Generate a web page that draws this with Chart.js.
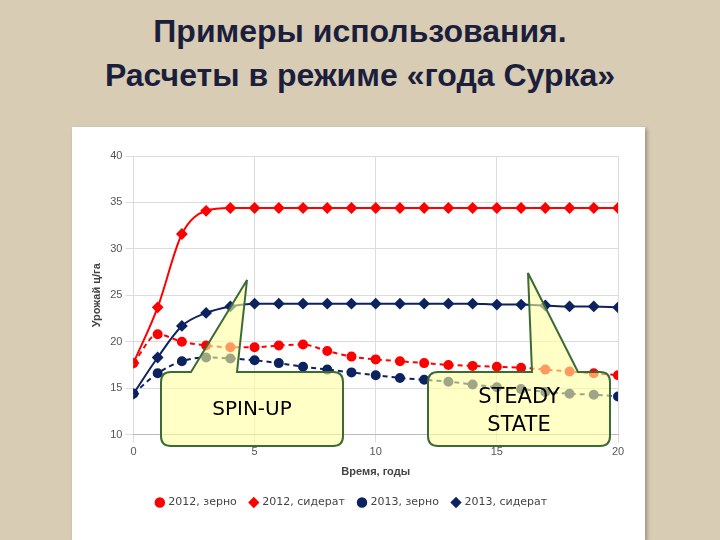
<!DOCTYPE html>
<html><head><meta charset="utf-8">
<script src="https://cdn.jsdelivr.net/npm/chart.js@4"></script>
<style>
body{margin:0;width:720px;height:540px;overflow:hidden;background:#d8cdb4;font-family:"DejaVu Sans",sans-serif;position:relative}
#title{position:absolute;left:0;top:9px;width:720px;text-align:center;font:bold 32px "Liberation Sans",Arial,sans-serif;color:#1c1f3c;line-height:44px}
#panel{position:absolute;left:72px;top:127px;width:573px;height:413px;background:#fff;box-shadow:2px 2px 4px rgba(0,0,0,0.3)}
#ov{position:absolute;left:0;top:0;pointer-events:none}
.lbl{position:absolute;text-align:center;font-family:"DejaVu Sans",sans-serif;color:#000}
</style></head><body>
<div id="title">Примеры использования.<br>Расчеты в режиме «года Сурка»</div>
<div id="panel"><canvas id="c" width="573" height="413"></canvas></div>
<svg id="ov" width="720" height="540">
<path d="M171,372 L191,372 L247,280 L237,372 L333,372 Q343,372 343,382 L343,436 Q343,446 333,446 L171,446 Q161,446 161,436 L161,382 Q161,372 171,372 Z" fill="rgba(255,255,160,0.6)" stroke="#3a6b35" stroke-width="2"/>
<path d="M438,372 L532,372 L528,273 L578,372 L600,372 Q610,372 610,382 L610,436 Q610,446 600,446 L438,446 Q428,446 428,436 L428,382 Q428,372 438,372 Z" fill="rgba(255,255,160,0.6)" stroke="#3a6b35" stroke-width="2"/>
</svg>
<div class="lbl" style="left:161px;top:396px;width:182px;font-size:20px">SPIN-UP</div>
<div class="lbl" style="left:428px;top:382px;width:182px;font-size:21px;line-height:28px">STEADY<br>STATE</div>
<script>
const years=[0,1,2,3,4,5,6,7,8,9,10,11,12,13,14,15,16,17,18,19,20];
const grain2012=[17.7,20.8,20.0,19.6,19.4,19.4,19.6,19.7,19.0,18.4,18.1,17.9,17.7,17.5,17.4,17.3,17.2,17.0,16.8,16.6,16.4];
const green2012=[17.7,23.7,31.6,34.1,34.4,34.4,34.4,34.4,34.4,34.4,34.4,34.4,34.4,34.4,34.4,34.4,34.4,34.4,34.4,34.4,34.4];
const grain2013=[14.4,16.6,17.9,18.3,18.2,18.0,17.7,17.3,17.0,16.7,16.4,16.1,15.9,15.7,15.4,15.1,14.9,14.6,14.4,14.3,14.1];
const green2013=[14.4,18.3,21.7,23.1,23.8,24.1,24.1,24.1,24.1,24.1,24.1,24.1,24.1,24.1,24.1,24.0,24.0,23.9,23.8,23.8,23.7];
const names=["2012, зерно","2012, сидерат","2013, зерно","2013, сидерат"];
const RED="#ff0000",NAVY="#0d2260";
function ds(label,data,color,dashed,style){return{label,data:data.map((v,i)=>({x:years[i],y:v})),borderColor:color,backgroundColor:color,borderWidth:2,borderDash:dashed?[5,4]:[],pointStyle:style,pointRadius:style==='rectRot'?4.5:4,cubicInterpolationMode:'monotone'};}
new Chart(document.getElementById('c'),{type:'line',
data:{datasets:[ds(names[0],grain2012,RED,true,'circle'),ds(names[1],green2012,RED,false,'rectRot'),ds(names[2],grain2013,NAVY,true,'circle'),ds(names[3],green2013,NAVY,false,'rectRot')]},
options:{responsive:false,animation:false,layout:{padding:{left:14,right:27,top:29,bottom:22}},
plugins:{legend:{position:'bottom',labels:{usePointStyle:true,boxWidth:6,boxHeight:6,font:{size:11,family:"DejaVu Sans"},color:'#444',padding:14}},tooltip:{enabled:false}},
scales:{x:{type:'linear',min:0,max:20,ticks:{stepSize:5,color:'#555',font:{size:11}},grid:{color:'#dcdcdc'},border:{color:'#bbb'},title:{display:true,text:'Время, годы',font:{size:11,weight:'bold'},color:'#444'}},
y:{min:10,max:40,ticks:{stepSize:5,color:'#555',font:{size:11}},grid:{color:'#dcdcdc'},border:{display:false},title:{display:true,text:'Урожай ц/га',font:{size:11,weight:'bold'},color:'#444'}}}}});
</script></body></html>
